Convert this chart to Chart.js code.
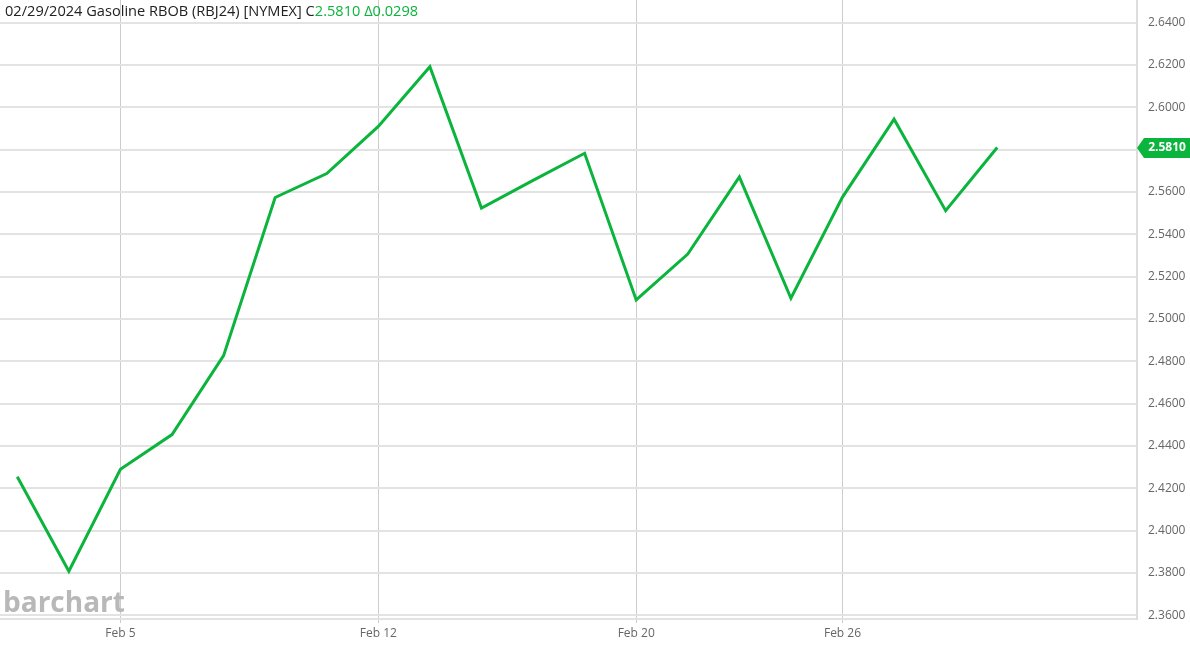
<!DOCTYPE html>
<html>
<head>
<meta charset="utf-8">
<script src="https://cdn.jsdelivr.net/npm/chart.js@4/dist/chart.umd.min.js"></script>
<style>
    html, body { margin: 0; padding: 0; background: #fff; }
    #wrap { position: relative; width: 1190px; height: 645px; }
</style>
</head>
<body>
<div id="wrap"><canvas id="chart"></canvas></div>
<script>
// trading days, Feb 2024 (Presidents' Day skipped)
const dates = ['Feb 1', 'Feb 2', 'Feb 5', 'Feb 6', 'Feb 7', 'Feb 8', 'Feb 9', 'Feb 12', 'Feb 13', 'Feb 14',
    'Feb 15', 'Feb 16', 'Feb 20', 'Feb 21', 'Feb 22', 'Feb 23', 'Feb 26', 'Feb 27', 'Feb 28', 'Feb 29'];
const closes = [2.4255, 2.3809, 2.4290, 2.4454, 2.4827, 2.5574, 2.5687, 2.5910, 2.6192, 2.5524,
    2.5655, 2.5783, 2.5090, 2.5307, 2.5671, 2.5098, 2.5576, 2.5944, 2.5512, 2.5810];
const xTickDates = ['Feb 5', 'Feb 12', 'Feb 20', 'Feb 26'];
const yTicks = [2.36, 2.38, 2.40, 2.42, 2.44, 2.46, 2.48, 2.50, 2.52, 2.54, 2.56, 2.58, 2.60, 2.62, 2.64];

const titleText = '02/29/2024 Gasoline RBOB (RBJ24) [NYMEX] C';
const lastText = '2.5810 Δ0.0298';
const green = '#0bb43c';

const FONT = '"Open Sans", "Noto Sans", sans-serif';

const overlay = {
    id: 'overlay',
    beforeDatasetsDraw(chart) {
        const ctx = chart.ctx;
        ctx.save();
        ctx.font = `bold 28px ${FONT}`;
        ctx.fillStyle = '#b8b8b8';
        ctx.textBaseline = 'alphabetic';
        ctx.fillText('barchart', 3, 612);
        ctx.restore();
    },
    afterDraw(chart) {
        const ctx = chart.ctx;
        const y = chart.scales.y;
        const area = chart.chartArea;
        ctx.save();

        // title
        ctx.font = `14.6px ${FONT}`;
        ctx.textBaseline = 'middle';
        ctx.fillStyle = '#222';
        ctx.fillText(titleText, 5, 12);
        const w = ctx.measureText(titleText).width;
        ctx.fillStyle = green;
        ctx.fillText(lastText, 5 + w, 12);

        // last price tag
        const last = closes[closes.length - 1];
        const py = Math.round(y.getPixelForValue(last));
        const left = area.right;
        ctx.beginPath();
        ctx.moveTo(left, py);
        ctx.lineTo(left + 7, py - 10);
        ctx.lineTo(1190, py - 10);
        ctx.lineTo(1190, py + 10);
        ctx.lineTo(left + 7, py + 10);
        ctx.closePath();
        ctx.fillStyle = green;
        ctx.fill();
        ctx.font = `bold 12px ${FONT}`;
        ctx.fillStyle = '#fff';
        ctx.textAlign = 'center';
        ctx.fillText(last.toFixed(4), left + 30, py);
        ctx.restore();
    }
};

new Chart(document.getElementById('chart'), {
    type: 'line',
    data: {
        datasets: [{
            data: closes.map((v, i) => ({ x: i, y: v })),
            borderColor: green,
            borderWidth: 3,
            pointRadius: 0,
            tension: 0,
            fill: false,
        }],
    },
    options: {
        responsive: true,
        maintainAspectRatio: false,
        animation: false,
        layout: { padding: 0 },
        plugins: {
            legend: { display: false },
            tooltip: { enabled: false },
        },
        scales: {
            x: {
                type: 'linear',
                min: -0.335,
                max: 21.71,
                afterBuildTicks: (scale) => {
                    scale.ticks = xTickDates.map(d => ({ value: dates.indexOf(d) }));
                },
                afterFit: (scale) => {
                    scale.height = 26;
                    scale.paddingLeft = 0;
                    scale.paddingRight = 0;
                },
                ticks: {
                    callback: (v) => dates[v],
                    color: '#666',
                    font: { family: FONT, size: 12 },
                    padding: 3,
                    maxRotation: 0,
                },
                grid: { color: '#cccccc', lineWidth: 1, tickLength: 4 },
                border: { color: '#e2e2e2', width: 2 },
            },
            y: {
                position: 'right',
                min: 2.3583,
                max: 2.6507,
                afterBuildTicks: (scale) => {
                    scale.ticks = yTicks.map(v => ({ value: v }));
                },
                afterFit: (scale) => {
                    scale.width = 53;
                    scale.paddingTop = 0;
                    scale.paddingBottom = 0;
                },
                ticks: {
                    callback: (v) => v.toFixed(4),
                    color: '#666',
                    font: { family: FONT, size: 12 },
                    padding: 11,
                },
                grid: { color: '#e3e3e3', lineWidth: 2, drawTicks: false },
                border: { color: '#dddddd', width: 2 },
            },
        },
    },
    plugins: [overlay],
});
</script>
</body>
</html>
